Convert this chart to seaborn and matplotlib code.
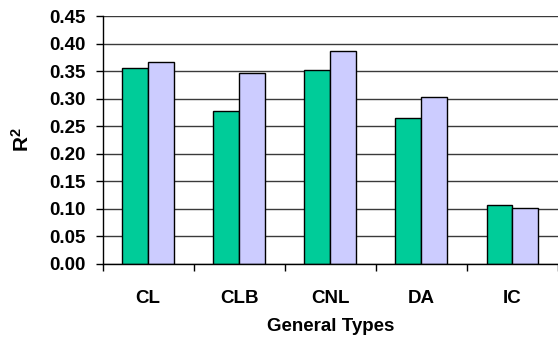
import matplotlib
matplotlib.use("Agg")
import matplotlib.pyplot as plt
from matplotlib.ticker import MultipleLocator, FixedLocator, FormatStrFormatter
import seaborn as sns
import pandas as pd

# General types and the two R^2 series per type
types = ["CL", "CLB", "CNL", "DA", "IC"]
series_a = [0.355, 0.278, 0.352, 0.264, 0.107]
series_b = [0.366, 0.346, 0.386, 0.303, 0.101]
series_names = ["A", "B"]
colors = ["#00CC99", "#CCCCFF"]

df = pd.DataFrame({
    "type": types * 2,
    "r2": series_a + series_b,
    "series": [series_names[0]] * len(types) + [series_names[1]] * len(types),
})

sns.set_theme(style="white")
plt.rcParams["font.family"] = ["Liberation Sans", "DejaVu Sans"]
plt.rcParams["font.weight"] = "bold"
plt.rcParams["mathtext.fontset"] = "custom"
plt.rcParams["mathtext.bf"] = "Liberation Sans:bold"
plt.rcParams["mathtext.rm"] = "Liberation Sans:bold"
for key in ["text.color", "axes.labelcolor", "xtick.color", "ytick.color"]:
    plt.rcParams[key] = "black"

FS = 13.5

fig = plt.figure(figsize=(5.58, 3.37), dpi=100)
ax = fig.add_axes([0.184, 0.218, 0.816, 0.7345])

sns.barplot(data=df, x="type", y="r2", hue="series", palette=colors,
            width=0.57, gap=0, edgecolor="black", linewidth=1.0,
            saturation=1, legend=False, ax=ax)

ax.set_ylim(0, 0.45)
ax.set_xlim(-0.5, len(types) - 0.5)
ax.yaxis.set_major_locator(MultipleLocator(0.05))
ax.yaxis.set_major_formatter(FormatStrFormatter("%.2f"))
ax.grid(axis="y", color="#3a3a3a", linewidth=1.0)
ax.set_axisbelow(True)

for side in ["top", "right"]:
    ax.spines[side].set_visible(False)
for side in ["left", "bottom"]:
    ax.spines[side].set_color("black")
    ax.spines[side].set_linewidth(1.0)

# category boundary ticks on the x axis
ax.xaxis.set_minor_locator(FixedLocator([i - 0.5 for i in range(len(types) + 1)]))
ax.tick_params(axis="x", which="minor", bottom=True, direction="out",
               length=5, width=1.0, color="black")
ax.tick_params(axis="x", which="major", bottom=False, length=0, pad=19,
               labelsize=FS, labelcolor="black")
ax.tick_params(axis="y", which="major", left=True, direction="out",
               length=5, width=1.0, color="black", pad=7, labelsize=FS,
               labelcolor="black")

for lab in ax.get_xticklabels() + ax.get_yticklabels():
    lab.set_fontweight("bold")

ax.set_xlabel("General Types", fontsize=FS, fontweight="bold", labelpad=8,
              color="black")
ax.set_ylabel(r"$\mathbf{R^2}$", fontsize=15, labelpad=12, color="black")

fig.savefig("out.png", dpi=100)
